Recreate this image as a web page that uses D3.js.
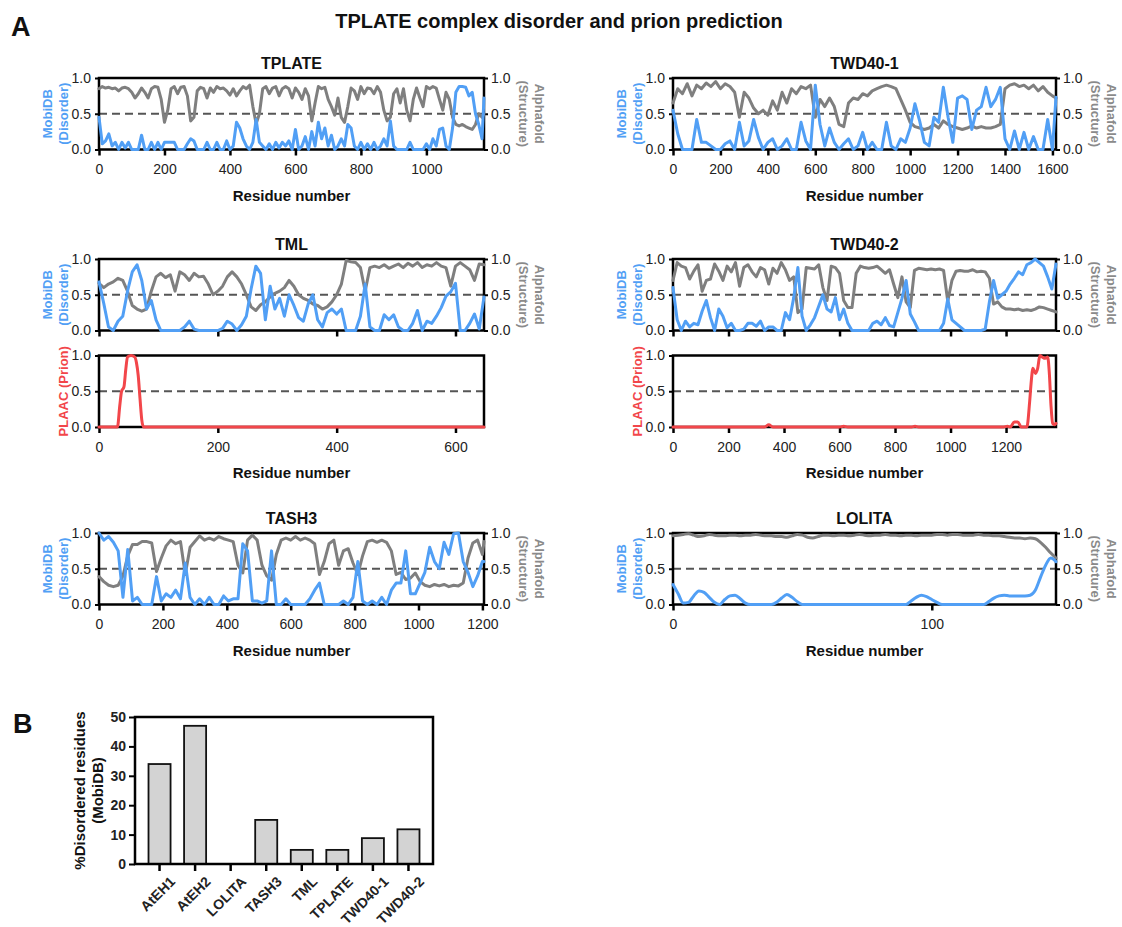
<!DOCTYPE html>
<html><head><meta charset="utf-8">
<script src="https://cdn.jsdelivr.net/npm/d3@7"></script>
<style>body{margin:0;background:#fff} svg{display:block;font-family:"Liberation Sans",Arial,sans-serif}</style>
</head><body><svg id="c" width="1122" height="927"></svg>
<script>
// ---------------- DATA ----------------
// TPLATE (1176 aa), values every 10 residues
const tplateLen = 1176, tplateStep = 10;
const tplateTicks = [0,200,400,600,800,1000];
const tplateDisorder = [
0.45,0.08,0.12,0.22,0.05,0.1,0,0.1,0.02,0.1,
0,0,0,0.2,0,0,0.1,0,0.1,0,
0.1,0.1,0.1,0.1,0,0,0,0.08,0.15,0.12,
0,0,0,0.1,0,0,0.1,0,0,0.12,
0,0.05,0.38,0.3,0.15,0.05,0,0.1,0.42,0.1,
0.05,0,0.08,0,0.1,0.02,0.1,0.05,0.12,0,
0.28,0,0.05,0.18,0,0.25,0.05,0.38,0.15,0.3,
0.05,0.2,0,0.05,0.15,0.05,0.35,0.3,0.05,0,
0.1,0,0.08,0,0.1,0,0.05,0.15,0.05,0.4,
0.05,0,0,0,0,0.1,0,0,0,0,
0.08,0,0.15,0.05,0.28,0.3,0.05,0,0.3,0.8,
0.88,0.88,0.87,0.75,0.8,0.5,0.35,0.15,0.72];
const tplateStructure = [
0.85,0.88,0.86,0.87,0.85,0.86,0.82,0.86,0.87,0.85,
0.8,0.72,0.78,0.86,0.8,0.72,0.85,0.88,0.87,0.7,
0.38,0.55,0.85,0.88,0.78,0.87,0.88,0.75,0.4,0.45,
0.82,0.87,0.85,0.72,0.86,0.8,0.88,0.85,0.86,0.82,
0.76,0.85,0.75,0.82,0.88,0.85,0.9,0.6,0.36,0.5,
0.85,0.88,0.78,0.86,0.88,0.75,0.85,0.88,0.85,0.72,
0.86,0.8,0.7,0.85,0.75,0.4,0.65,0.88,0.85,0.87,
0.7,0.6,0.48,0.72,0.45,0.38,0.6,0.86,0.82,0.7,
0.88,0.78,0.86,0.85,0.78,0.88,0.8,0.55,0.4,0.45,
0.78,0.85,0.65,0.85,0.55,0.4,0.7,0.86,0.72,0.6,
0.88,0.85,0.88,0.86,0.7,0.55,0.8,0.7,0.45,0.35,
0.33,0.35,0.32,0.3,0.28,0.35,0.5,0.45,0.5];

// TWD40-1 (1615 aa), every 20 residues
const twd1Len = 1615, twd1Step = 20;
const twd1Ticks = [0,200,400,600,800,1000,1200,1400,1600];
const twd1Disorder = [
0.55,0.22,0,0,0,0.42,0.1,0.1,0.05,0,
0,0.08,0.12,0,0.38,0.05,0.12,0.42,0.17,0,
0.1,0.15,0,0.05,0.15,0,0,0.38,0.12,0,
0.9,0.35,0.05,0.3,0.1,0,0.08,0.15,0,0.05,
0.24,0,0.1,0,0,0.38,0.05,0,0.15,0.1,
0.3,0.64,0.4,0.1,0.05,0.45,0.38,0.87,0.45,0.1,
0.72,0.75,0.7,0.28,0.55,0.6,0.87,0.6,0.7,0.87,
0.15,0,0.26,0,0.24,0,0.18,0,0,0.42,
0,0.73];
const twd1Structure = [
0.65,0.85,0.78,0.92,0.75,0.9,0.85,0.93,0.88,0.95,
0.85,0.92,0.88,0.8,0.45,0.8,0.72,0.58,0.5,0.55,
0.48,0.68,0.55,0.8,0.65,0.85,0.78,0.88,0.85,0.9,
0.45,0.7,0.6,0.72,0.6,0.35,0.32,0.65,0.72,0.7,
0.78,0.75,0.82,0.85,0.88,0.9,0.88,0.85,0.7,0.55,
0.38,0.32,0.3,0.28,0.3,0.35,0.3,0.4,0.35,0.32,
0.3,0.28,0.3,0.33,0.3,0.32,0.3,0.3,0.32,0.35,
0.85,0.9,0.92,0.88,0.9,0.85,0.9,0.82,0.88,0.8,
0.75,0.72];

// TML (648 aa), every 8 residues
const tmlLen = 648, tmlStep = 8;
const tmlTicks = [0,200,400,600];
const tmlDisorder = [
0.68,0.38,0.05,0,0.13,0.2,0.55,0.82,0.92,0.7,
0.3,0.42,0.15,0,0,0,0,0,0.05,0.13,
0.02,0,0,0,0,0,0.03,0.13,0.09,0,
0.08,0.2,0.58,0.9,0.8,0.15,0.62,0.3,0.45,0.2,
0.5,0.35,0.18,0.13,0.37,0.5,0.15,0.05,0.25,0.3,
0.23,0.3,0,0,0,0.2,0.65,0.05,0,0,
0.22,0.15,0.22,0.05,0,0,0.1,0.28,0,0.13,
0.1,0.2,0.32,0.48,0.54,0.66,0,0,0.1,0.23,
0.02,0.47];
const tmlStructure = [
0.66,0.6,0.65,0.68,0.73,0.7,0.55,0.35,0.3,0.27,
0.3,0.55,0.75,0.8,0.74,0.78,0.55,0.82,0.78,0.7,
0.8,0.75,0.76,0.65,0.5,0.55,0.62,0.75,0.82,0.75,
0.65,0.5,0.33,0.28,0.36,0.4,0.47,0.52,0.55,0.6,
0.7,0.62,0.5,0.45,0.42,0.37,0.35,0.3,0.33,0.4,
0.5,0.65,0.98,0.96,0.95,0.88,0.55,0.88,0.9,0.88,
0.92,0.87,0.9,0.93,0.88,0.94,0.9,0.95,0.88,0.92,
0.9,0.95,0.9,0.88,0.62,0.9,0.95,0.9,0.85,0.7,
0.93,0.92];
const tmlPrionRes = [0,31,35,38,42,45,48,54,60,63,66,69,72,75,648];
const tmlPrion    = [0,0,0.3,0.5,0.56,0.8,0.98,1.0,0.98,0.9,0.72,0.4,0.1,0,0];

// TWD40-2 (1380 aa), every 15 residues
const twd2Len = 1380, twd2Step = 15;
const twd2Ticks = [0,200,400,600,800,1000,1200];
const twd2Disorder = [
0.6,0.15,0,0.13,0.05,0.1,0.08,0.27,0.42,0.18,
0,0.3,0.2,0.04,0.1,0,0,0.02,0.1,0.1,
0.06,0.13,0,0.05,0.05,0,0,0.25,0.15,0.46,
0.88,0.2,0,0.08,0.18,0.34,0.5,0.3,0.26,0.46,
0.15,0.3,0.1,0,0,0,0,0,0.1,0.13,
0.08,0.18,0.07,0.05,0.25,0.45,0.7,0.23,0.12,0,
0,0,0,0,0,0.1,0.44,0.15,0.1,0.05,
0,0,0,0,0,0.02,0.4,0.7,0.45,0.5,
0.55,0.65,0.73,0.82,0.78,0.92,0.95,1.0,0.95,0.9,
0.75,0.58,0.93];
const twd2Structure = [
0.7,0.95,0.9,0.88,0.72,0.83,0.92,0.55,0.7,0.72,
0.93,0.83,0.7,0.9,0.82,0.95,0.62,0.88,0.92,0.82,
0.75,0.88,0.85,0.65,0.87,0.8,0.95,0.85,0.7,0.75,
0.25,0.3,0.88,0.87,0.86,0.92,0.6,0.42,0.9,0.88,
0.8,0.42,0.32,0.32,0.8,0.9,0.88,0.87,0.88,0.9,
0.85,0.8,0.85,0.65,0.46,0.75,0.4,0.32,0.84,0.87,
0.86,0.85,0.86,0.85,0.86,0.84,0.41,0.7,0.83,0.84,
0.83,0.83,0.85,0.82,0.83,0.82,0.73,0.37,0.4,0.33,
0.3,0.3,0.29,0.3,0.28,0.29,0.28,0.3,0.33,0.32,
0.3,0.28,0.26];
const twd2PrionRes = [0,330,345,360,600,615,630,860,872,885,1190,1205,1215,1230,1242,1255,1275,1285,1290,1297,1306,1314,1322,1330,1341,1350,1356,1362,1368,1375,1380];
const twd2Prion    = [0,0,0.03,0,0,0.01,0,0,0.01,0,0,0.01,0,0.07,0.07,0,0,0.35,0.6,0.82,0.75,0.82,1.0,0.98,0.96,0.98,0.75,0.3,0.05,0.03,0.05];

// TASH3 (1205 aa), every 15 residues
const tash3Len = 1205, tash3Step = 15;
const tash3Ticks = [0,200,400,600,800,1000,1200];
const tash3Disorder = [
1.0,0.9,0.95,0.87,0.75,0.1,0.77,0.05,0.1,0,
0,0,0.39,0.05,0.15,0.1,0.2,0.08,0.58,0.1,
0,0.08,0,0.1,0,0,0.12,0.05,0.08,0.08,
0.85,0.75,0.05,0.05,0.02,0.05,0.75,0,0,0.08,
0,0,0,0,0.08,0.2,0.3,0,0,0,
0,0.05,0,0.1,0.6,0.05,0,0.05,0,0.1,
0,0.2,0.3,0.3,0.75,0.15,0.15,0.3,0.45,0.8,
0.6,0.5,0.87,0.7,0.99,1.0,0.6,0.45,0.25,0.4,
0.6,0.6];
const tash3Structure = [
0.39,0.32,0.27,0.25,0.27,0.4,0.68,0.84,0.84,0.88,
0.88,0.86,0.46,0.65,0.82,0.9,0.85,0.88,0.42,0.8,
0.88,0.96,0.9,0.93,0.9,0.95,0.92,0.9,0.88,0.55,
0.44,0.9,0.97,0.9,0.55,0.4,0.34,0.7,0.9,0.93,
0.9,0.95,0.9,0.93,0.9,0.85,0.42,0.6,0.85,0.9,
0.55,0.75,0.78,0.58,0.42,0.68,0.88,0.9,0.87,0.9,
0.87,0.75,0.42,0.45,0.35,0.37,0.44,0.32,0.27,0.25,
0.28,0.26,0.28,0.25,0.27,0.26,0.3,0.65,0.86,0.9,
0.7,0.88];

// LOLITA (148 aa), every 2 residues
const lolitaLen = 148, lolitaStep = 2;
const lolitaTicks = [0,100];
const lolitaDisorder = [
0.28,0.15,0.02,0.03,0.12,0.19,0.17,0.1,0.03,0,
0.07,0.12,0.13,0.08,0.02,0,0,0,0,0,
0.03,0.09,0.14,0.1,0.04,0,0,0,0,0,
0,0,0,0,0,0,0,0,0,0,
0,0,0,0,0,0,0.05,0.1,0.13,0.11,
0.07,0.03,0,0,0,0,0,0,0,0,
0,0.04,0.09,0.12,0.13,0.12,0.12,0.12,0.12,0.13,
0.2,0.38,0.55,0.65,0.6];
const lolitaStructure = [
0.96,0.97,0.98,0.99,0.97,0.95,0.96,0.98,0.97,0.96,
0.96,0.97,0.97,0.96,0.97,0.97,0.98,0.97,0.96,0.96,
0.95,0.95,0.94,0.96,0.98,0.97,0.94,0.93,0.95,0.97,
0.97,0.96,0.97,0.97,0.96,0.97,0.98,0.97,0.96,0.97,
0.97,0.98,0.97,0.97,0.96,0.97,0.97,0.96,0.97,0.97,
0.97,0.98,0.98,0.97,0.98,0.98,0.97,0.97,0.97,0.98,
0.97,0.97,0.96,0.96,0.95,0.94,0.93,0.93,0.92,0.93,
0.92,0.87,0.8,0.72,0.65];

// Panel B
const barCategories = ["AtEH1","AtEH2","LOLITA","TASH3","TML","TPLATE","TWD40-1","TWD40-2"];
const barValues = [34, 47, 0, 15, 4.8, 4.8, 8.8, 11.8];
const barTicks = [0,10,20,30,40,50];

// ---------------- DRAW ----------------
const BLUE = "#519ff5", GRAY = "#7f7f7f", RED = "#f2464a", DASH = "#555";
const svg = d3.select("#c");
svg.append("rect").attr("width",1122).attr("height",927).attr("fill","#fff");

const series = (vals, step, len) => vals.map((v,i) => [Math.min(i*step, len), v]);
const pairs = (xs, vs) => xs.map((x,i) => [x, vs[i]]);

function styleAxis(g, size){
  g.select(".domain").remove();
  g.selectAll(".tick line").attr("stroke","#000").attr("stroke-width",2);
  g.selectAll(".tick text").attr("fill","#222").attr("font-size",size).attr("font-family","'Liberation Sans',Arial,sans-serif");
}

function panel(c){
  const bottom = c.top + c.h;
  const x = d3.scaleLinear().domain([0, c.len]).range([c.x0, c.x1]);
  const y = d3.scaleLinear().domain([0, 1]).range([bottom, c.top]);
  const g = svg.append("g");

  g.append("line").attr("x1",c.x0).attr("x2",c.x1).attr("y1",y(0.5)).attr("y2",y(0.5))
    .attr("stroke",DASH).attr("stroke-width",2).attr("stroke-dasharray","8,5");

  const yl = g.append("g").attr("transform",`translate(${c.x0},0)`)
    .call(d3.axisLeft(y).tickValues([0,0.5,1]).tickFormat(d3.format(".1f")).tickSize(4).tickPadding(4));
  styleAxis(yl, 14);
  if (c.right) {
    const yr = g.append("g").attr("transform",`translate(${c.x1},0)`)
      .call(d3.axisRight(y).tickValues([0,0.5,1]).tickFormat(d3.format(".1f")).tickSize(4).tickPadding(3));
    styleAxis(yr, 14);
  }
  const xa = g.append("g").attr("transform",`translate(0,${bottom})`)
    .call(d3.axisBottom(x).tickValues(c.ticks).tickFormat(c.tickLabels ? d3.format("d") : () => "").tickSize(6).tickPadding(9));
  styleAxis(xa, 14);
  xa.selectAll(".tick line").attr("stroke-width",2.5);

  g.append("rect").attr("x",c.x0).attr("y",c.top).attr("width",c.x1-c.x0).attr("height",c.h)
    .attr("fill","none").attr("stroke","#000").attr("stroke-width",2.5);

  const line = d3.line().x(d => x(d[0])).y(d => y(d[1])).curve(c.curve || d3.curveLinear);
  c.lines.forEach(l => {
    g.append("path").datum(l.data).attr("d",line).attr("fill","none")
      .attr("stroke",l.color).attr("stroke-width",3).attr("stroke-linejoin","round").attr("stroke-linecap","round");
  });

  const cy = (c.top + bottom) / 2;
  if (c.title) {
    g.append("text").attr("x",(c.x0+c.x1)/2).attr("y",c.top-9).attr("text-anchor","middle")
      .attr("font-size",16).attr("font-weight","bold").attr("fill","#111").text(c.title);
  }
  c.leftLabel.forEach((t,i) => {
    const off = c.leftLabel.length === 2 ? (i === 0 ? 52 : 36) : 36;
    g.append("text").attr("transform",`translate(${c.x0-off},${cy}) rotate(-90)`)
      .attr("text-anchor","middle").attr("dominant-baseline","central")
      .attr("font-size",13).attr("font-weight","bold").attr("fill",c.leftColor).text(t);
  });
  if (c.right) {
    ["Alphafold","(Structure)"].forEach((t,i) => {
      const off = i === 0 ? 55 : 39;
      g.append("text").attr("transform",`translate(${c.x1+off},${cy}) rotate(90)`)
        .attr("text-anchor","middle").attr("dominant-baseline","central")
        .attr("font-size",13).attr("font-weight","bold").attr("fill","#8a8a8a").text(t);
    });
  }
  if (c.xTitle) {
    g.append("text").attr("x",(c.x0+c.x1)/2).attr("y",bottom+51).attr("text-anchor","middle")
      .attr("font-size",15).attr("font-weight","bold").attr("fill","#111").text("Residue number");
  }
}

const L = [99, 484], R = [673, 1056], H = 71.5;
const mob = ["MobiDB","(Disorder)"];
function dual(name, cols, top, len, ticks, dis, str, step, tickLabels, xTitle, curve){
  panel({title:name, x0:cols[0], x1:cols[1], top, h:H, len, ticks, tickLabels, xTitle, right:true,
    leftLabel:mob, leftColor:BLUE, curve,
    lines:[{data:series(str,step,len),color:GRAY},{data:series(dis,step,len),color:BLUE}]});
}
dual("TPLATE", L, 78, tplateLen, tplateTicks, tplateDisorder, tplateStructure, tplateStep, true, true);
dual("TWD40-1", R, 78, twd1Len, twd1Ticks, twd1Disorder, twd1Structure, twd1Step, true, true);
dual("TML", L, 259, tmlLen, tmlTicks, tmlDisorder, tmlStructure, tmlStep, false, false);
dual("TWD40-2", R, 259, twd2Len, twd2Ticks, twd2Disorder, twd2Structure, twd2Step, false, false);
panel({x0:L[0], x1:L[1], top:355.5, h:H, len:tmlLen, ticks:tmlTicks, tickLabels:true, xTitle:true, right:false,
  leftLabel:["PLAAC (Prion)"], leftColor:RED, curve:d3.curveMonotoneX,
  lines:[{data:pairs(tmlPrionRes,tmlPrion),color:RED}]});
panel({x0:R[0], x1:R[1], top:355.5, h:H, len:twd2Len, ticks:twd2Ticks, tickLabels:true, xTitle:true, right:false,
  leftLabel:["PLAAC (Prion)"], leftColor:RED, curve:d3.curveMonotoneX,
  lines:[{data:pairs(twd2PrionRes,twd2Prion),color:RED}]});
dual("TASH3", L, 533, tash3Len, tash3Ticks, tash3Disorder, tash3Structure, tash3Step, true, true);
dual("LOLITA", R, 533, lolitaLen, lolitaTicks, lolitaDisorder, lolitaStructure, lolitaStep, true, true, d3.curveMonotoneX);

// Titles
svg.append("text").attr("x",559).attr("y",28).attr("text-anchor","middle").attr("font-size",20)
  .attr("font-weight","bold").attr("fill","#111").text("TPLATE complex disorder and prion prediction");
svg.append("text").attr("x",11).attr("y",36).attr("font-size",27).attr("font-weight","bold").attr("fill","#111").text("A");
svg.append("text").attr("x",13).attr("y",733).attr("font-size",27).attr("font-weight","bold").attr("fill","#111").text("B");

// ---------------- Panel B ----------------
(function(){
  const x0 = 135, x1 = 433, yTop = 717, yBot = 864;
  const x = d3.scaleBand().domain(barCategories).range([x0,x1]).paddingInner(0.38).paddingOuter(0.38);
  const y = d3.scaleLinear().domain([0,50]).range([yBot,yTop]);
  const g = svg.append("g");
  g.selectAll("rect.bar").data(barCategories).enter().append("rect").attr("class","bar")
    .attr("x",d => x(d)).attr("width",x.bandwidth())
    .attr("y",(d,i) => y(barValues[i])).attr("height",(d,i) => y(0)-y(barValues[i]))
    .attr("fill","#d3d3d3").attr("stroke","#111").attr("stroke-width",1.8);
  const ya = g.append("g").attr("transform",`translate(${x0},0)`)
    .call(d3.axisLeft(y).tickValues(barTicks).tickFormat(d3.format("d")).tickSize(6).tickPadding(3));
  styleAxis(ya, 14);
  ya.selectAll(".tick text").attr("font-weight","bold");
  const xa = g.append("g").attr("transform",`translate(0,${yBot})`)
    .call(d3.axisBottom(x).tickSize(7).tickPadding(3));
  styleAxis(xa, 14);
  xa.selectAll(".tick line").attr("stroke-width",2.5);
  xa.selectAll(".tick text").attr("font-weight","bold").attr("text-anchor","end")
    .attr("dy","0.35em").attr("transform","translate(6,8) rotate(-45)");
  g.append("rect").attr("x",x0).attr("y",yTop).attr("width",x1-x0).attr("height",yBot-yTop)
    .attr("fill","none").attr("stroke","#000").attr("stroke-width",2.5);
  const cy = (yTop+yBot)/2;
  [["%Disordered residues",79],["(MobiDB)",97]].forEach(([t,px]) => {
    g.append("text").attr("transform",`translate(${px},${cy}) rotate(-90)`)
      .attr("text-anchor","middle").attr("dominant-baseline","central")
      .attr("font-size",15).attr("font-weight","bold").attr("fill","#111").text(t);
  });
})();
</script></body></html>
